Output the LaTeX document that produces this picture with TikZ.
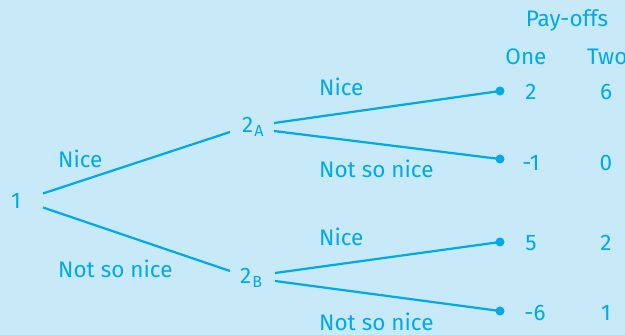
\documentclass[tikz,border=0pt]{standalone}
\usepackage{fontspec}
\setmainfont{Fira Sans}
\definecolor{bgblue}{HTML}{C7E9F8}
\definecolor{ink}{HTML}{00AAEA}
% player index set a little below the baseline
\newcommand{\playersub}[1]{\raisebox{-4pt}{\fontsize{16}{16}\selectfont #1}}
\begin{document}
\begin{tikzpicture}[x=1pt,y=-1pt,
  every node/.style={text=ink,font=\fontsize{22.5}{25}\selectfont,inner sep=0pt},
  branch/.style={draw=ink,line width=2.2pt},
  leaf/.style={circle,fill=ink,minimum size=9pt,inner sep=0pt},
  lbl/.style={anchor=base west},
  num/.style={anchor=base}]
\fill[bgblue] (0,0) rectangle (625,335);
\useasboundingbox (0,0) rectangle (625,335);
\clip (0,0) rectangle (625,335);

% decision nodes
\node[anchor=base] (p1) at (16,208) {1};
\node[anchor=base west] (p2a) at (242,132) {2\kern1pt\playersub{A}};
\node[anchor=base west] (p2b) at (240,283) {2\kern1pt\playersub{B}};

% end points
\node[leaf] (e1) at (500,91) {};
\node[leaf] (e2) at (500,159) {};
\node[leaf] (e3) at (500,242) {};
\node[leaf] (e4) at (500,311) {};

% branches (shifts are in picture units, y pointing down)
\draw[branch] ([shift={(27,-7)}]p1.center) -- ([shift={(-12,0)}]p2a.base west);
\draw[branch] ([shift={(27,7)}]p1.center) -- ([shift={(-10,-12)}]p2b.base west);
\draw[branch] ([shift={(32,-9)}]p2a.base west) -- (e1.center);
\draw[branch] ([shift={(32,-1)}]p2a.base west) -- (e2.center);
\draw[branch] ([shift={(35,-10)}]p2b.base west) -- (e3.center);
\draw[branch] ([shift={(35,-2)}]p2b.base west) -- (e4.center);

% branch labels
\node[lbl] (l1) at (58,167) {Nice};
\node[lbl] (l2) at (58,277) {Not so nice};
\node[lbl] (l3) at (319,95) {Nice};
\node[lbl] (l4) at (319,177) {Not so nice};
\node[lbl] (l5) at (319,245) {Nice};
\node[lbl] (l6) at (319,330) {Not so nice};

% pay-off table
\node[num] (hp) at (567,26) {Pay-offs};
\node[num] (h1) at (526,64) {One};
\node[lbl] (h2) at (587,64) {Two};
\node[num] (a1) at (531,99) {2};
\node[num] (b1) at (606,99) {6};
\node[num] (a2) at (531,170) {-1};
\node[num] (b2) at (606,170) {0};
\node[num] (a3) at (531,250) {5};
\node[num] (b3) at (606,250) {2};
\node[num] (a4) at (535,320) {-6};
\node[num] (b4) at (606,320) {1};
\end{tikzpicture}
\end{document}
